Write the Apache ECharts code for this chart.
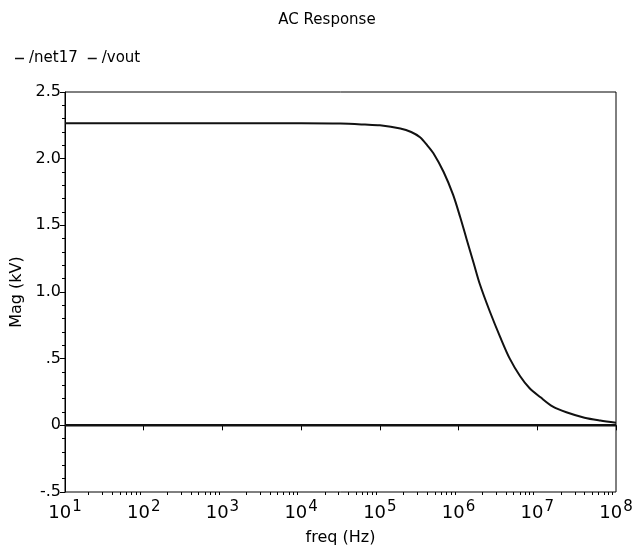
<!DOCTYPE html>
<html>
<head>
<meta charset="utf-8">
<script src="https://cdn.jsdelivr.net/npm/echarts@6/dist/echarts.min.js"></script>
<style>
    html, body { margin: 0; padding: 0; background: #fff; }
    #chart { width: 636px; height: 551px; }
</style>
</head>
<body>
<div id="chart"></div>
<script>
// values (frequency in Hz, magnitude in kV)
var voutFreq = [10, 100, 1e3, 1e4, 3.16e4, 6.46e4, 1e5, 1.82e5, 2.5e5, 3.24e5, 4e5, 4.79e5, 6.46e5, 8.51e5, 1.05e6, 1.26e6, 1.55e6, 1.86e6, 2.51e6, 3.39e6, 4.47e6, 6.03e6, 7.94e6, 1.1e7, 1.58e7, 2.34e7, 3.98e7, 6.3e7, 1e8];
var voutMag = [2.265, 2.265, 2.265, 2.265, 2.263, 2.256, 2.25, 2.226, 2.2, 2.16, 2.1, 2.04, 1.90, 1.73, 1.56, 1.40, 1.22, 1.06, 0.85, 0.66, 0.50, 0.37, 0.28, 0.21, 0.14, 0.098, 0.057, 0.036, 0.02];
var netFreq = [10, 1e8];
var netMag = [0, 0];
var decades = [10, 100, 1e3, 1e4, 1e5, 1e6, 1e7];
var steps = [2, 3, 4, 5, 6, 7, 8, 9];
var yLabels = {'2.5': '2.5', '2': '2.0', '1.5': '1.5', '1': '1.0', '0.5': '.5', '0': '0', '-0.5': '-.5'};

// minor tick positions (2..9 inside each decade), in log10 units
var minorLog = [];
for (var i = 0; i < decades.length; i++) {
    for (var j = 0; j < steps.length; j++) {
        minorLog.push(Math.log10(decades[i] * steps[j]));
    }
}

function pairs(xs, ys) {
    var arr = [];
    for (var i = 0; i < xs.length; i++) {
        arr.push([xs[i], ys[i]]);
    }
    return arr;
}

var myChart = echarts.init(document.getElementById('chart'));
var font = 'DejaVu Sans';

var option = {
    animation: false,
    title: {
        text: 'AC Response',
        left: 322,
        textAlign: 'center',
        top: 8,
        textStyle: { fontFamily: font, fontSize: 15, fontWeight: 'normal', color: '#000' }
    },
    legend: {
        left: 10,
        top: 46,
        itemWidth: 9,
        itemHeight: 1.5,
        itemGap: 10,
        icon: 'rect',
        textStyle: { fontFamily: font, fontSize: 15, color: '#000' },
        data: ['/net17', '/vout']
    },
    grid: {
        left: 65,
        right: 20,
        top: 92,
        bottom: 59,
        show: true,
        borderColor: '#000',
        borderWidth: 1
    },
    xAxis: [{
        type: 'log',
        logBase: 10,
        min: 10,
        max: 1e8,
        interval: 1,
        name: 'freq (Hz)',
        nameLocation: 'middle',
        nameGap: 38,
        nameTextStyle: { fontFamily: font, fontSize: 16, color: '#000' },
        axisLine: { lineStyle: { color: '#000', width: 1 } },
        axisTick: { length: 5, lineStyle: { color: '#000' } },
        splitLine: { show: false },
        axisLabel: {
            margin: 8,
            color: '#000',
            fontFamily: font,
            fontSize: 18,
            formatter: function (v) {
                return '10{sup|' + Math.round(Math.log10(v)) + '}';
            },
            rich: {
                sup: { fontFamily: font, fontSize: 15, color: '#000', padding: [0, 0, 11, 1] }
            }
        }
    }, {
        type: 'value',
        min: 1,
        max: 8,
        position: 'bottom',
        axisLine: { show: false },
        axisLabel: { show: false },
        splitLine: { show: false },
        axisTick: { show: true, length: 3, customValues: minorLog, lineStyle: { color: '#000' } }
    }],
    yAxis: {
        type: 'value',
        min: -0.5,
        max: 2.5,
        interval: 0.5,
        name: 'Mag (kV)',
        nameLocation: 'middle',
        nameGap: 38,
        nameTextStyle: { fontFamily: font, fontSize: 16, color: '#000' },
        axisLine: { show: true, lineStyle: { color: '#000', width: 1 } },
        axisTick: { show: true, length: 5, lineStyle: { color: '#000' } },
        minorTick: { show: true, splitNumber: 5, length: 3, lineStyle: { color: '#000' } },
        splitLine: { show: false },
        axisLabel: {
            margin: 4,
            color: '#000',
            fontFamily: font,
            fontSize: 16,
            formatter: function (v) {
                return yLabels[String(v)] !== undefined ? yLabels[String(v)] : v;
            }
        }
    },
    series: [{
        name: '/net17',
        type: 'line',
        symbol: 'none',
        color: '#111',
        lineStyle: { color: '#111', width: 2.5 },
        data: pairs(netFreq, netMag)
    }, {
        name: '/vout',
        type: 'line',
        symbol: 'none',
        smooth: 0.3,
        color: '#111',
        lineStyle: { color: '#111', width: 2 },
        data: pairs(voutFreq, voutMag)
    }]
};
myChart.setOption(option);
</script>
</body>
</html>
